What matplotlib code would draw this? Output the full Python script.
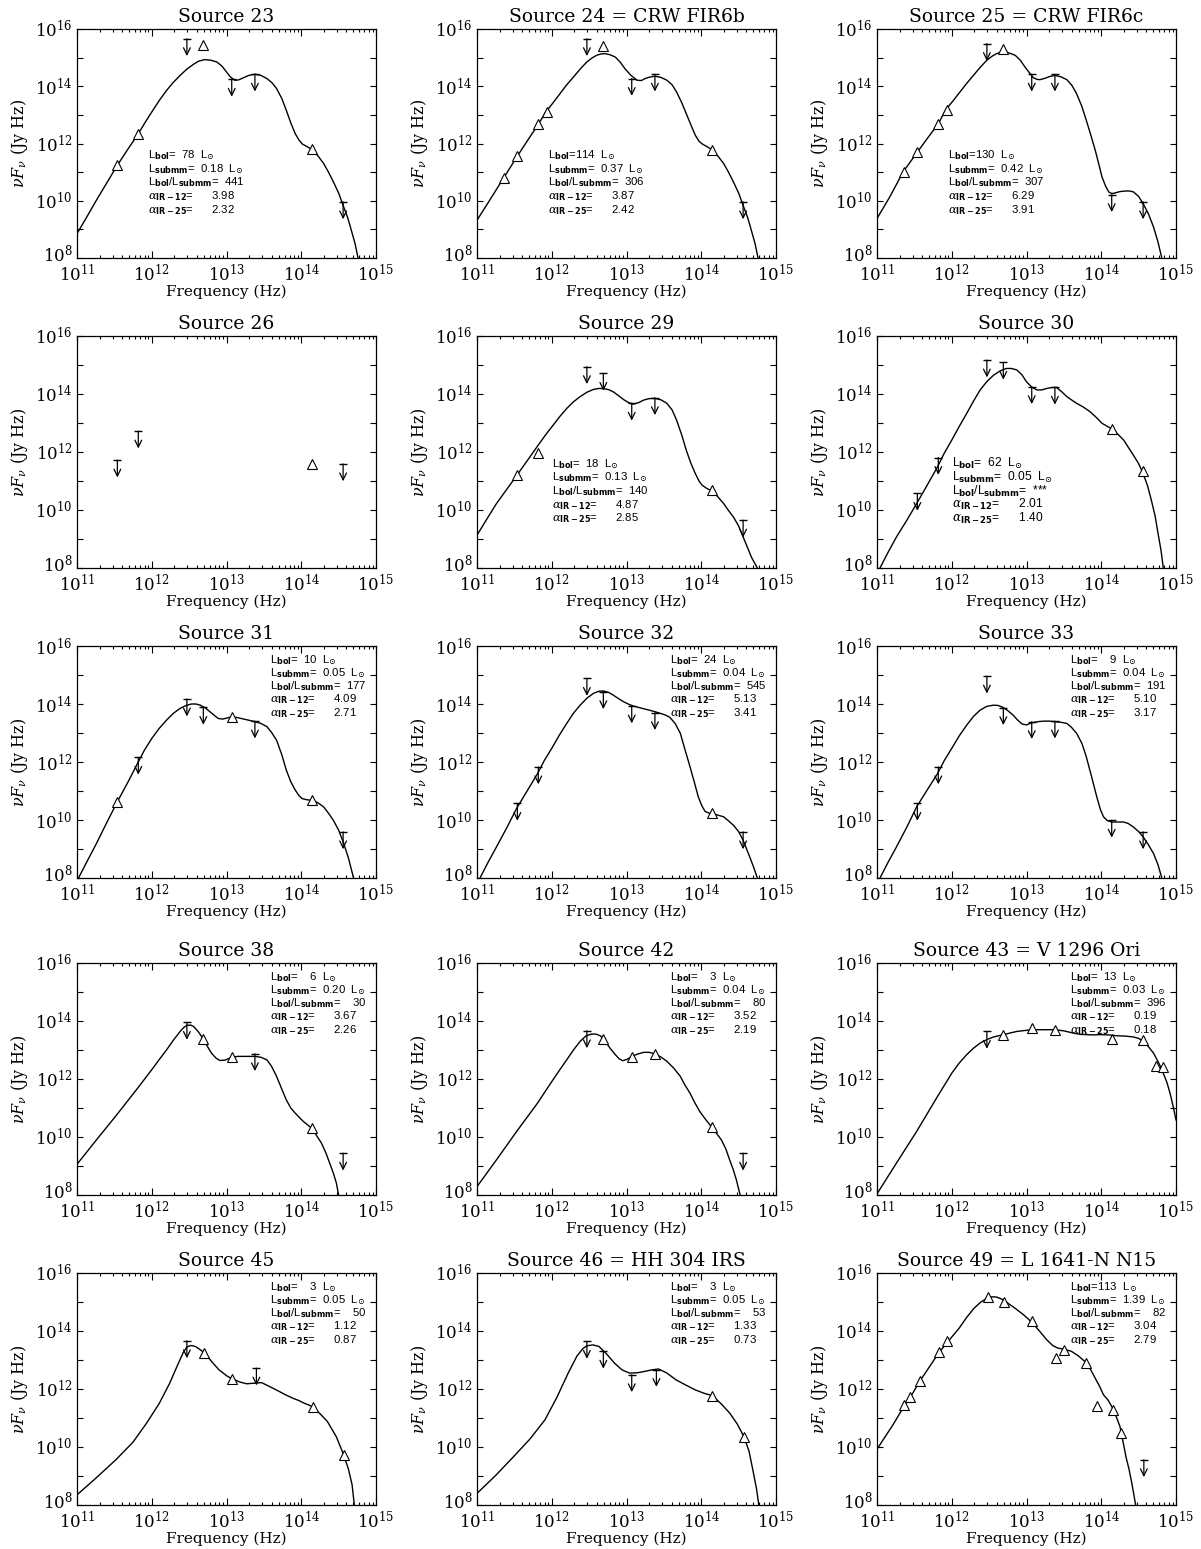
import matplotlib
matplotlib.use("Agg")
import matplotlib.pyplot as plt
from matplotlib.ticker import FixedLocator, FuncFormatter, NullFormatter
from matplotlib.transforms import ScaledTranslation
import numpy as np

plt.rcParams['font.family'] = ['DejaVu Serif']
plt.rcParams['mathtext.fontset'] = 'custom'
plt.rcParams['mathtext.rm'] = 'DejaVu Serif'
plt.rcParams['mathtext.it'] = 'DejaVu Serif:italic'
plt.rcParams['mathtext.bf'] = 'DejaVu Sans:bold'
plt.rcParams['mathtext.fallback'] = 'cm'

# ---------------------------------------------------------------------------
# Spectral energy distributions: log10(nu [Hz]) and log10(nu F_nu [Jy Hz])
# det_*  : detections (open triangles)
# lim_*  : upper limits (downward arrows)
# mod_*  : model fit curve
# ---------------------------------------------------------------------------

# Source 23
s23_det_x = [11.54, 11.82, 12.69, 14.14]
s23_det_y = [11.24, 12.34, 15.43, 11.80]
s23_lim_x = [12.47, 13.07, 13.38, 14.56]
s23_lim_y = [15.66, 14.24, 14.42, 9.96]
s23_mod_x = [11.00, 11.13, 11.26, 11.40, 11.54, 11.68, 11.82, 11.91, 12.00, 12.10,
             12.20, 12.29, 12.38, 12.47, 12.56, 12.63, 12.71, 12.79, 12.87, 12.94,
             13.00, 13.05, 13.11, 13.16, 13.23, 13.30, 13.38, 13.46, 13.54, 13.61,
             13.67, 13.74, 13.80, 13.86, 13.92, 13.97, 14.01, 14.07, 14.14, 14.22,
             14.30, 14.36, 14.43, 14.50, 14.56, 14.62, 14.67, 14.72, 14.76]
s23_mod_y = [8.85, 9.43, 10.02, 10.63, 11.24, 11.80, 12.34, 12.73, 13.10, 13.50,
             13.86, 14.14, 14.38, 14.60, 14.77, 14.88, 14.93, 14.91, 14.85, 14.70,
             14.50, 14.33, 14.21, 14.22, 14.30, 14.38, 14.42, 14.38, 14.27, 14.12,
             13.92, 13.57, 13.16, 12.72, 12.34, 12.12, 11.99, 11.90, 11.80, 11.58,
             11.30, 11.02, 10.66, 10.27, 9.84, 9.42, 8.97, 8.50, 8.00]

# Source 24 = CRW FIR6b
s24_det_x = [11.36, 11.54, 11.82, 11.93, 12.69, 14.14]
s24_det_y = [10.81, 11.56, 12.67, 13.10, 15.41, 11.79]
s24_lim_x = [12.47, 13.07, 13.38, 14.56]
s24_lim_y = [15.66, 14.27, 14.42, 9.96]
s24_mod_x = [11.00, 11.17, 11.36, 11.54, 11.68, 11.82, 11.92, 12.02, 12.11, 12.20,
             12.29, 12.38, 12.47, 12.54, 12.60, 12.66, 12.71, 12.78, 12.85, 12.92,
             12.98, 13.06, 13.14, 13.20, 13.25, 13.31, 13.38, 13.46, 13.54, 13.61,
             13.67, 13.74, 13.80, 13.86, 13.92, 13.97, 14.01, 14.07, 14.14, 14.22,
             14.30, 14.36, 14.43, 14.50, 14.56, 14.62, 14.67, 14.72, 14.76]
s24_mod_y = [9.32, 10.02, 10.81, 11.56, 12.12, 12.67, 13.10, 13.43, 13.74, 14.05,
             14.32, 14.60, 14.85, 14.99, 15.08, 15.13, 15.14, 15.10, 15.02, 14.83,
             14.61, 14.38, 14.21, 14.20, 14.27, 14.32, 14.35, 14.31, 14.21, 14.05,
             13.80, 13.42, 13.04, 12.66, 12.29, 12.08, 11.99, 11.90, 11.79, 11.57,
             11.30, 11.02, 10.66, 10.27, 9.84, 9.42, 8.97, 8.50, 8.00]

# Source 25 = CRW FIR6c
s25_det_x = [11.36, 11.54, 11.82, 11.93, 12.69]
s25_det_y = [11.01, 11.70, 12.69, 13.18, 15.29]
s25_lim_x = [12.47, 13.07, 13.38, 14.14, 14.56]
s25_lim_y = [15.49, 14.42, 14.42, 10.21, 9.96]
s25_mod_x = [11.00, 11.17, 11.35, 11.54, 11.68, 11.82, 11.92, 12.02, 12.11, 12.20,
             12.29, 12.38, 12.47, 12.54, 12.60, 12.66, 12.71, 12.78, 12.85, 12.92,
             12.98, 13.04, 13.09, 13.14, 13.18, 13.25, 13.31, 13.38, 13.46, 13.54,
             13.61, 13.67, 13.74, 13.80, 13.86, 13.92, 13.97, 14.01, 14.06, 14.10,
             14.14, 14.18, 14.25, 14.32, 14.38, 14.43, 14.50, 14.56, 14.63, 14.70,
             14.76, 14.81]
s25_mod_y = [9.38, 10.13, 11.01, 11.70, 12.20, 12.69, 13.18, 13.50, 13.80, 14.10,
             14.38, 14.66, 14.91, 15.05, 15.14, 15.19, 15.20, 15.15, 15.08, 14.90,
             14.67, 14.47, 14.30, 14.24, 14.23, 14.28, 14.34, 14.38, 14.33, 14.23,
             14.02, 13.74, 13.30, 12.81, 12.30, 11.76, 11.25, 10.83, 10.50, 10.31,
             10.25, 10.27, 10.32, 10.34, 10.34, 10.31, 10.15, 9.90, 9.55, 9.08,
             8.55, 8.00]

# Source 26 (no model)
s26_det_x = [14.14]
s26_det_y = [11.59]
s26_lim_x = [11.54, 11.82, 14.56]
s26_lim_y = [11.72, 12.72, 11.59]
s26_mod_x = []
s26_mod_y = []

# Source 29
s29_det_x = [11.54, 11.82, 14.14]
s29_det_y = [11.22, 11.97, 10.68]
s29_lim_x = [12.47, 12.69, 13.07, 13.38, 14.56]
s29_lim_y = [14.94, 14.71, 13.68, 13.87, 9.65]
s29_mod_x = [11.00, 11.13, 11.26, 11.40, 11.54, 11.68, 11.82, 11.92, 12.02, 12.11,
             12.20, 12.29, 12.38, 12.47, 12.56, 12.63, 12.69, 12.76, 12.82, 12.89,
             12.96, 13.03, 13.09, 13.16, 13.23, 13.30, 13.38, 13.46, 13.54, 13.61,
             13.67, 13.74, 13.80, 13.86, 13.92, 13.97, 14.01, 14.07, 14.14, 14.22,
             14.30, 14.36, 14.43, 14.50, 14.56, 14.62, 14.67, 14.75]
s29_mod_y = [9.13, 9.68, 10.22, 10.72, 11.22, 11.73, 12.24, 12.60, 12.93, 13.23,
             13.50, 13.73, 13.91, 14.06, 14.16, 14.19, 14.19, 14.15, 14.08, 13.95,
             13.81, 13.70, 13.65, 13.70, 13.79, 13.84, 13.85, 13.80, 13.68, 13.45,
             13.10, 12.58, 12.06, 11.62, 11.26, 11.00, 10.86, 10.75, 10.66, 10.46,
             10.22, 10.00, 9.76, 9.45, 9.07, 8.70, 8.38, 8.00]

# Source 30
s30_det_x = [14.14, 14.56]
s30_det_y = [12.80, 11.34]
s30_lim_x = [11.54, 11.82, 12.47, 12.69, 13.07, 13.38]
s30_lim_y = [10.57, 11.81, 15.17, 15.09, 14.25, 14.23]
s30_mod_x = [11.04, 11.15, 11.26, 11.40, 11.53, 11.67, 11.81, 11.90, 12.00, 12.10,
             12.20, 12.29, 12.38, 12.47, 12.56, 12.65, 12.73, 12.80, 12.87, 12.94,
             13.00, 13.07, 13.14, 13.20, 13.27, 13.33, 13.40, 13.47, 13.54, 13.60,
             13.67, 13.76, 13.85, 13.93, 14.01, 14.07, 14.14, 14.22, 14.30, 14.36,
             14.43, 14.50, 14.56, 14.62, 14.67, 14.72, 14.76, 14.80, 14.83]
s30_mod_y = [8.00, 8.55, 9.07, 9.65, 10.22, 10.85, 11.49, 11.96, 12.41, 12.88,
             13.33, 13.75, 14.14, 14.43, 14.65, 14.80, 14.88, 14.88, 14.83, 14.66,
             14.42, 14.24, 14.14, 14.14, 14.19, 14.22, 14.23, 14.08, 13.91, 13.80,
             13.68, 13.55, 13.39, 13.20, 12.99, 12.90, 12.80, 12.62, 12.41, 12.17,
             11.89, 11.60, 11.26, 10.83, 10.34, 9.80, 9.19, 8.60, 8.00]

# Source 31
s31_det_x = [11.54, 13.07, 14.14]
s31_det_y = [10.63, 13.54, 10.68]
s31_lim_x = [11.82, 12.47, 12.69, 13.38, 14.56]
s31_lim_y = [12.16, 14.17, 13.88, 13.41, 9.59]
s31_mod_x = [11.02, 11.14, 11.26, 11.40, 11.54, 11.68, 11.81, 11.90, 12.00, 12.10,
             12.20, 12.29, 12.38, 12.46, 12.53, 12.59, 12.65, 12.72, 12.78, 12.84,
             12.89, 12.95, 13.01, 13.07, 13.15, 13.23, 13.30, 13.38, 13.46, 13.54,
             13.60, 13.67, 13.74, 13.80, 13.86, 13.92, 13.97, 14.01, 14.07, 14.14,
             14.22, 14.30, 14.36, 14.43, 14.50, 14.56, 14.63, 14.70]
s31_mod_y = [8.00, 8.60, 9.19, 9.92, 10.63, 11.30, 11.95, 12.40, 12.81, 13.16,
             13.45, 13.68, 13.85, 13.95, 14.00, 14.00, 13.96, 13.86, 13.73, 13.60,
             13.50, 13.48, 13.52, 13.56, 13.53, 13.48, 13.44, 13.39, 13.33, 13.22,
             13.03, 12.75, 12.25, 11.72, 11.32, 11.03, 10.84, 10.74, 10.70, 10.68,
             10.60, 10.45, 10.25, 9.99, 9.65, 9.25, 8.70, 8.00]

# Source 32
s32_det_x = [14.14]
s32_det_y = [10.25]
s32_lim_x = [11.54, 11.82, 12.47, 12.69, 13.07, 13.38, 14.56]
s32_lim_y = [10.57, 11.83, 14.88, 14.42, 13.93, 13.70, 9.59]
s32_mod_x = [11.04, 11.15, 11.26, 11.40, 11.53, 11.67, 11.81, 11.90, 12.00, 12.10,
             12.20, 12.29, 12.38, 12.47, 12.56, 12.63, 12.69, 12.76, 12.82, 12.89,
             12.96, 13.03, 13.09, 13.18, 13.27, 13.36, 13.45, 13.52, 13.58, 13.65,
             13.72, 13.78, 13.85, 13.91, 13.96, 14.01, 14.05, 14.10, 14.14, 14.22,
             14.30, 14.36, 14.43, 14.50, 14.56, 14.63, 14.70, 14.75]
s32_mod_y = [8.00, 8.55, 9.07, 9.74, 10.40, 11.00, 11.60, 12.05, 12.47, 12.92,
             13.33, 13.68, 13.96, 14.20, 14.37, 14.44, 14.45, 14.40, 14.31, 14.19,
             14.08, 13.99, 13.93, 13.87, 13.81, 13.75, 13.68, 13.62, 13.54, 13.33,
             12.99, 12.45, 11.83, 11.28, 10.80, 10.48, 10.30, 10.24, 10.22, 10.17,
             10.11, 9.98, 9.82, 9.60, 9.30, 8.85, 8.38, 8.00]

# Source 33
s33_det_x = []
s33_det_y = []
s33_lim_x = [11.54, 11.82, 12.47, 12.69, 13.07, 13.38, 14.14, 14.56]
s33_lim_y = [10.57, 11.83, 14.96, 13.87, 13.39, 13.41, 9.99, 9.59]
s33_mod_x = [11.04, 11.15, 11.26, 11.40, 11.53, 11.67, 11.81, 11.90, 12.00, 12.10,
             12.20, 12.29, 12.38, 12.47, 12.56, 12.62, 12.69, 12.75, 12.82, 12.88,
             12.94, 13.00, 13.07, 13.15, 13.23, 13.30, 13.38, 13.46, 13.54, 13.60,
             13.67, 13.74, 13.80, 13.87, 13.94, 13.99, 14.03, 14.08, 14.14, 14.22,
             14.30, 14.36, 14.43, 14.50, 14.56, 14.63, 14.70, 14.76, 14.81]
s33_mod_y = [8.00, 8.55, 9.07, 9.76, 10.45, 11.03, 11.60, 12.05, 12.47, 12.90,
             13.27, 13.57, 13.79, 13.92, 13.96, 13.95, 13.88, 13.77, 13.62, 13.45,
             13.31, 13.28, 13.35, 13.39, 13.41, 13.41, 13.39, 13.37, 13.33, 13.20,
             12.99, 12.65, 12.18, 11.50, 10.80, 10.35, 10.11, 9.98, 9.93, 9.93,
             9.93, 9.88, 9.76, 9.60, 9.42, 9.15, 8.84, 8.45, 8.00]

# Source 38
s38_det_x = [12.69, 13.07, 14.14]
s38_det_y = [13.38, 12.75, 10.30]
s38_lim_x = [12.47, 13.38, 14.56]
s38_lim_y = [13.95, 12.87, 9.44]
s38_mod_x = [11.00, 11.26, 11.53, 11.81, 12.00, 12.10, 12.20, 12.29, 12.38, 12.43,
             12.47, 12.52, 12.56, 12.62, 12.69, 12.75, 12.80, 12.86, 12.91, 12.98,
             13.07, 13.15, 13.23, 13.30, 13.38, 13.46, 13.54, 13.60, 13.67, 13.74,
             13.80, 13.86, 13.92, 13.98, 14.03, 14.08, 14.14, 14.20, 14.27, 14.33,
             14.38, 14.43, 14.47, 14.50]
s38_mod_y = [9.06, 9.90, 10.76, 11.68, 12.32, 12.67, 13.01, 13.34, 13.64, 13.78,
             13.85, 13.86, 13.81, 13.64, 13.38, 13.10, 12.89, 12.72, 12.64, 12.65,
             12.75, 12.78, 12.78, 12.78, 12.78, 12.75, 12.66, 12.45, 12.09, 11.65,
             11.28, 11.00, 10.82, 10.66, 10.53, 10.43, 10.30, 10.07, 9.79, 9.45,
             9.10, 8.75, 8.41, 8.00]

# Source 42
s42_det_x = [12.69, 13.07, 13.38, 14.14]
s42_det_y = [13.39, 12.75, 12.87, 10.34]
s42_lim_x = [12.47, 14.56]
s42_lim_y = [13.66, 9.44]
s42_mod_x = [11.00, 11.26, 11.53, 11.81, 12.00, 12.10, 12.20, 12.29, 12.38, 12.46,
             12.53, 12.59, 12.65, 12.69, 12.73, 12.79, 12.85, 12.90, 12.95, 13.01,
             13.07, 13.15, 13.23, 13.30, 13.38, 13.46, 13.54, 13.63, 13.72, 13.78,
             13.85, 13.91, 13.98, 14.06, 14.14, 14.20, 14.27, 14.33, 14.38, 14.43,
             14.47, 14.52]
s42_mod_y = [8.29, 9.21, 10.19, 11.17, 11.91, 12.29, 12.66, 13.00, 13.30, 13.49,
             13.55, 13.55, 13.49, 13.39, 13.24, 13.03, 12.84, 12.70, 12.63, 12.68,
             12.78, 12.86, 12.92, 12.92, 12.87, 12.76, 12.61, 12.38, 12.09, 11.80,
             11.51, 11.20, 10.88, 10.60, 10.34, 10.14, 9.90, 9.58, 9.21, 8.86,
             8.52, 8.00]

# Source 43 = V 1296 Ori
s43_det_x = [12.69, 13.07, 13.38, 14.14, 14.56, 14.73, 14.82]
s43_det_y = [13.53, 13.76, 13.68, 13.38, 13.33, 12.46, 12.43]
s43_lim_x = [12.47]
s43_lim_y = [13.64]
s43_mod_x = [11.00, 11.26, 11.53, 11.81, 11.91, 12.00, 12.10, 12.20, 12.29, 12.38,
             12.47, 12.56, 12.69, 12.87, 13.07, 13.23, 13.38, 13.50, 13.63, 13.72,
             13.80, 13.90, 13.98, 14.10, 14.21, 14.32, 14.43, 14.50, 14.56, 14.63,
             14.70, 14.77, 14.83, 14.88, 14.92, 14.96, 15.00]
s43_mod_y = [8.04, 9.10, 10.19, 11.40, 11.82, 12.20, 12.55, 12.84, 13.06, 13.24,
             13.36, 13.45, 13.53, 13.64, 13.70, 13.70, 13.70, 13.66, 13.58, 13.54,
             13.53, 13.52, 13.53, 13.52, 13.49, 13.48, 13.45, 13.40, 13.30, 13.12,
             12.89, 12.55, 12.20, 11.87, 11.51, 11.08, 10.59]

# Source 45
s45_det_x = [12.70, 13.08, 14.16, 14.57]
s45_det_y = [13.24, 12.34, 11.37, 9.71]
s45_lim_x = [12.47, 13.40]
s45_lim_y = [13.66, 12.72]
s45_mod_x = [11.00, 11.25, 11.52, 11.75, 11.93, 12.10, 12.24, 12.35, 12.42, 12.47,
             12.53, 12.59, 12.65, 12.71, 12.80, 12.90, 13.00, 13.08, 13.18, 13.27,
             13.37, 13.47, 13.58, 13.68, 13.79, 13.89, 13.97, 14.04, 14.10, 14.16,
             14.25, 14.35, 14.47, 14.57, 14.63, 14.68, 14.71]
s45_mod_y = [8.35, 8.92, 9.56, 10.17, 10.82, 11.50, 12.20, 12.85, 13.25, 13.45,
             13.50, 13.46, 13.35, 13.24, 12.95, 12.66, 12.46, 12.34, 12.24, 12.18,
             12.20, 12.22, 12.08, 11.95, 11.80, 11.68, 11.60, 11.51, 11.45, 11.37,
             11.15, 10.88, 10.35, 9.71, 9.25, 8.70, 8.00]

# Source 46 = HH 304 IRS
s46_det_x = [14.15, 14.57]
s46_det_y = [11.77, 10.36]
s46_lim_x = [12.47, 12.69, 13.07, 13.40]
s46_lim_y = [13.64, 13.30, 12.49, 12.67]
s46_mod_x = [11.00, 11.25, 11.49, 11.71, 11.91, 12.07, 12.22, 12.34, 12.42, 12.47,
             12.55, 12.63, 12.73, 12.84, 12.94, 13.04, 13.15, 13.25, 13.34, 13.43,
             13.54, 13.66, 13.79, 13.92, 14.04, 14.15, 14.27, 14.38, 14.48, 14.57,
             14.64, 14.69, 14.74, 14.77]
s46_mod_y = [8.40, 9.02, 9.67, 10.28, 10.94, 11.72, 12.55, 13.15, 13.40, 13.49,
             13.52, 13.47, 13.22, 12.89, 12.66, 12.55, 12.56, 12.61, 12.66, 12.69,
             12.55, 12.32, 12.14, 11.97, 11.85, 11.77, 11.48, 11.17, 10.80, 10.36,
             9.85, 9.21, 8.55, 8.00]

# Source 49 = L 1641-N N15
s49_det_x = [11.36, 11.44, 11.57, 11.83, 11.93, 12.48, 12.70, 13.08, 13.40, 13.50,
             13.80, 13.94, 14.16, 14.27]
s49_det_y = [11.45, 11.74, 12.26, 13.26, 13.64, 15.17, 15.00, 14.33, 13.07, 13.35,
             12.89, 11.40, 11.26, 10.50]
s49_lim_x = [14.57]
s49_lim_y = [9.56]
s49_mod_x = [11.00, 11.10, 11.20, 11.28, 11.36, 11.47, 11.57, 11.70, 11.83, 11.97,
             12.10, 12.20, 12.30, 12.39, 12.48, 12.54, 12.60, 12.67, 12.75, 12.85,
             12.96, 13.03, 13.10, 13.18, 13.27, 13.35, 13.42, 13.51, 13.60, 13.69,
             13.78, 13.86, 13.93, 13.98, 14.03, 14.09, 14.14, 14.20, 14.25, 14.29,
             14.33, 14.37, 14.40, 14.43, 14.46]
s49_mod_y = [9.92, 10.32, 10.71, 11.05, 11.40, 11.82, 12.26, 12.76, 13.26, 13.70,
             14.10, 14.47, 14.79, 15.00, 15.14, 15.18, 15.17, 15.10, 14.96, 14.78,
             14.56, 14.40, 14.22, 13.98, 13.70, 13.50, 13.41, 13.37, 13.30, 13.15,
             12.95, 12.66, 12.32, 12.08, 11.80, 11.62, 11.40, 11.05, 10.71, 10.20,
             9.67, 9.25, 8.87, 8.45, 8.00]

# Titles and derived quantities (Lbol, Lsubmm, Lbol/Lsubmm, alpha_IR-12, alpha_IR-25)
titles = ["Source 23", "Source 24 = CRW FIR6b", "Source 25 = CRW FIR6c",
          "Source 26", "Source 29", "Source 30",
          "Source 31", "Source 32", "Source 33",
          "Source 38", "Source 42", "Source 43 = V 1296 Ori",
          "Source 45", "Source 46 = HH 304 IRS", "Source 49 = L 1641-N N15"]
l_bol = [78, 114, 130, None, 18, 62, 10, 24, 9, 6, 3, 13, 3, 3, 113]
l_submm = [0.18, 0.37, 0.42, None, 0.13, 0.05, 0.05, 0.04, 0.04, 0.20, 0.04, 0.03,
           0.05, 0.05, 1.39]
l_ratio = ["441", "306", "307", None, "140", "***", "177", "545", "191", "30", "80",
           "396", "50", "53", "82"]
alpha_12 = [3.98, 3.87, 6.29, None, 4.87, 2.01, 4.09, 5.13, 5.10, 3.67, 3.52, 0.19,
            1.12, 1.33, 3.04]
alpha_25 = [2.32, 2.42, 3.91, None, 2.85, 1.40, 2.71, 3.41, 3.17, 2.26, 2.19, 0.18,
            0.87, 0.73, 2.79]

panels = [
    (s23_det_x, s23_det_y, s23_lim_x, s23_lim_y, s23_mod_x, s23_mod_y),
    (s24_det_x, s24_det_y, s24_lim_x, s24_lim_y, s24_mod_x, s24_mod_y),
    (s25_det_x, s25_det_y, s25_lim_x, s25_lim_y, s25_mod_x, s25_mod_y),
    (s26_det_x, s26_det_y, s26_lim_x, s26_lim_y, s26_mod_x, s26_mod_y),
    (s29_det_x, s29_det_y, s29_lim_x, s29_lim_y, s29_mod_x, s29_mod_y),
    (s30_det_x, s30_det_y, s30_lim_x, s30_lim_y, s30_mod_x, s30_mod_y),
    (s31_det_x, s31_det_y, s31_lim_x, s31_lim_y, s31_mod_x, s31_mod_y),
    (s32_det_x, s32_det_y, s32_lim_x, s32_lim_y, s32_mod_x, s32_mod_y),
    (s33_det_x, s33_det_y, s33_lim_x, s33_lim_y, s33_mod_x, s33_mod_y),
    (s38_det_x, s38_det_y, s38_lim_x, s38_lim_y, s38_mod_x, s38_mod_y),
    (s42_det_x, s42_det_y, s42_lim_x, s42_lim_y, s42_mod_x, s42_mod_y),
    (s43_det_x, s43_det_y, s43_lim_x, s43_lim_y, s43_mod_x, s43_mod_y),
    (s45_det_x, s45_det_y, s45_lim_x, s45_lim_y, s45_mod_x, s45_mod_y),
    (s46_det_x, s46_det_y, s46_lim_x, s46_lim_y, s46_mod_x, s46_mod_y),
    (s49_det_x, s49_det_y, s49_lim_x, s49_lim_y, s49_mod_x, s49_mod_y),
]

# Axis ticks
x_major = [1e11, 1e12, 1e13, 1e14, 1e15]
y_major = [1e8, 1e10, 1e12, 1e14, 1e16]
y_minor = [1e9, 1e11, 1e13, 1e15]

# ---------------------------------------------------------------------------
W, H = 1201, 1549
fig = plt.figure(figsize=(W / 100, H / 100), dpi=100)
fig.patch.set_facecolor("white")
renderer = fig.canvas.get_renderer()

col_left = [77, 477, 877]
ax_w = 299
row_top = [29, 336, 646, 963, 1273]
row_bot = [258, 568, 878, 1195, 1505]

x_minor = [m * 10.0 ** e for e in range(11, 15) for m in range(2, 10)]

# width (pixels) of the "Lbol/Lsubmm" line of each info block
info_width_px = 97


def pow10(v, pos):
    return r"$10^{%d}$" % int(round(np.log10(v)))


def padded(s, width):
    # fixed-width field: each leading blank is as wide as a digit (two spaces)
    s = s.strip()
    return "  " * max(width - len(s), 0) + s


for i, (dx, dy, lx, ly, mx, my) in enumerate(panels):
    r, c = divmod(i, 3)
    ax = fig.add_axes([col_left[c] / W, 1 - row_bot[r] / H, ax_w / W,
                       (row_bot[r] - row_top[r]) / H])
    ax.set_xscale("log")
    ax.set_yscale("log")
    ax.set_xlim(1e11, 1e15)
    ax.set_ylim(1e8, 1e16)

    if mx:
        ax.plot(10.0 ** np.array(mx), 10.0 ** np.array(my), color="black", lw=1.0,
                solid_joinstyle="round", zorder=2)
    if dx:
        ax.plot(10.0 ** np.array(dx), 10.0 ** np.array(dy), linestyle="none",
                marker="^", ms=6.5, mfc="white", mec="black", mew=0.8, zorder=3)
    for xv, yv in zip(lx, ly):
        ax.plot(10.0 ** xv, 10.0 ** yv, marker="_", ms=5.5, mew=1.0, color="black",
                zorder=3)
        ax.annotate("", xy=(10.0 ** xv, 10.0 ** yv), xycoords="data",
                    xytext=(0, -12.5), textcoords="offset points",
                    arrowprops=dict(arrowstyle="<-,head_length=0.45,head_width=0.22",
                                    lw=0.9, color="black", shrinkA=0, shrinkB=0,
                                    mutation_scale=11), zorder=3)

    ax.xaxis.set_major_locator(FixedLocator(x_major))
    ax.xaxis.set_minor_locator(FixedLocator(x_minor))
    ax.yaxis.set_major_locator(FixedLocator(y_major))
    ax.yaxis.set_minor_locator(FixedLocator(y_minor))
    ax.xaxis.set_major_formatter(FuncFormatter(pow10))
    ax.yaxis.set_major_formatter(FuncFormatter(pow10))
    ax.xaxis.set_minor_formatter(NullFormatter())
    ax.yaxis.set_minor_formatter(NullFormatter())
    ax.tick_params(which="both", direction="in", top=True, right=True, width=0.8,
                   labelsize=12, color="black")
    ax.tick_params(axis="x", which="major", length=5, pad=4)
    ax.tick_params(axis="x", which="minor", length=2.5)
    ax.tick_params(axis="y", which="major", length=4.5, pad=3)
    ax.tick_params(axis="y", which="minor", length=4.5)
    for sp in ax.spines.values():
        sp.set_linewidth(0.9)

    # lift the lowest y label a little so it clears the first x label
    low = ax.yaxis.get_major_ticks()[0].label1
    low.set_transform(low.get_transform() +
                      ScaledTranslation(0, 4 / 72, fig.dpi_scale_trans))

    ax.set_xlabel("Frequency (Hz)", fontsize=11, labelpad=0)
    ax.set_ylabel(r"$\nu F_\nu$ (Jy Hz)", fontsize=11.5, labelpad=4)
    ax.set_title(titles[i], fontsize=13.5, pad=5)

    if l_bol[i] is not None:
        lines = [
            r"L$_{\mathbf{bol}}$=" + padded("%d" % l_bol[i], 3) + r"  L$_{\odot}$",
            r"L$_{\mathbf{submm}}$=" + padded("%.2f" % l_submm[i], 5)
            + r"  L$_{\odot}$",
            r"L$_{\mathbf{bol}}$/L$_{\mathbf{submm}}$=" + padded(l_ratio[i], 4),
            r"$\alpha_{\mathbf{IR-12}}$=" + padded("%.2f" % alpha_12[i], 7),
            r"$\alpha_{\mathbf{IR-25}}$=" + padded("%.2f" % alpha_25[i], 7),
        ]
        if r == 0:
            tx, ty, dl = 0.237, 0.45, 0.060
        elif r == 1:
            tx, ty, dl = 0.25, 0.45, 0.059
        else:
            tx, ty, dl = 0.645, 0.94, 0.057
        texts = [ax.text(tx, ty - k * dl, s, transform=ax.transAxes, fontsize=8.0,
                         family=["Liberation Sans", "DejaVu Sans"], ha="left",
                         va="center")
                 for k, s in enumerate(lines)]
        # size the block so the ratio line has a fixed width
        w = texts[2].get_window_extent(renderer).width
        scale = min(max(info_width_px / w, 0.8), 1.4)
        for t in texts:
            t.set_fontsize(8.0 * scale)

fig.savefig("out.png", dpi=100, facecolor="white")
